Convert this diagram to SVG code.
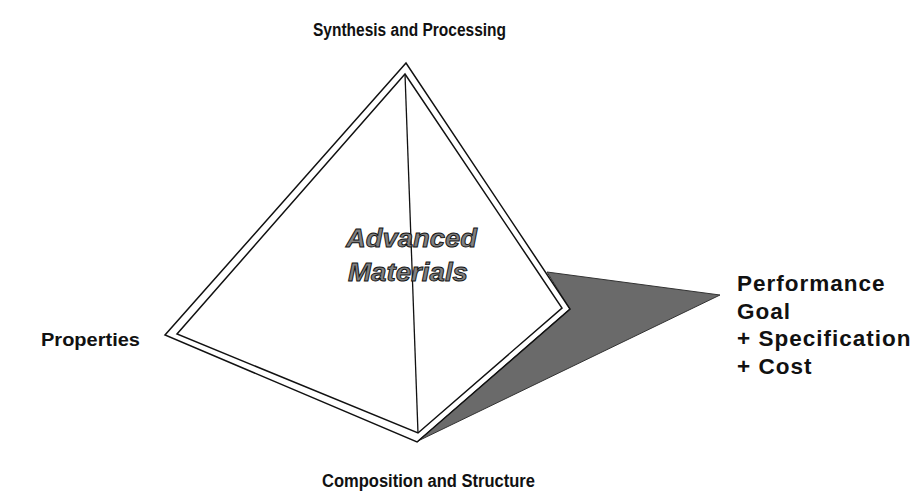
<svg xmlns="http://www.w3.org/2000/svg" width="920" height="502" viewBox="0 0 920 502">
<style>
.lbl{font-family:"Liberation Sans",Arial,sans-serif;font-weight:bold;font-size:18px;fill:#111}
.rt{font-size:22.5px;letter-spacing:1px}
.big{font-family:"Liberation Sans",Arial,sans-serif;font-weight:bold;font-style:italic;font-size:26px;fill:#808080;stroke:#111;stroke-width:0.9}
.edge{fill:none;stroke:#111;stroke-width:1.5;stroke-linejoin:miter}
</style>
<rect width="920" height="502" fill="#fff"/>
<g id="shadow">
<polygon points="547,272 720,295 420,440 417,442 570,309" fill="#6a6a6a" stroke="#333" stroke-width="1"/>
</g>
<g id="pyramid">
<polygon points="406,63 165,335 417,442 570,309" fill="#fff" class="edge"/>
<polygon points="405,74 177,334 418,433 562,308" class="edge"/>
</g>
<g id="connectors">
<line x1="405" y1="74" x2="418" y2="433" stroke="#111" stroke-width="1.3"/>
</g>
<g id="center"><text class="big" x="346" y="247" textLength="131" lengthAdjust="spacingAndGlyphs">Advanced</text><text class="big" x="348" y="281" textLength="120" lengthAdjust="spacingAndGlyphs">Materials</text></g>
<g id="top"><text class="lbl" x="313" y="36" textLength="193" lengthAdjust="spacingAndGlyphs">Synthesis and Processing</text></g>
<g id="left"><text class="lbl" x="41" y="346" textLength="99" lengthAdjust="spacingAndGlyphs">Properties</text></g>
<g id="bottom"><text class="lbl" x="322" y="487" textLength="213" lengthAdjust="spacingAndGlyphs">Composition and Structure</text></g>
<g id="right"><text class="lbl rt" x="737" y="291">Performance</text><text class="lbl rt" x="737" y="319">Goal</text><text class="lbl rt" x="737" y="346">+ Specification</text><text class="lbl rt" x="737" y="374">+ Cost</text></g>
</svg>
